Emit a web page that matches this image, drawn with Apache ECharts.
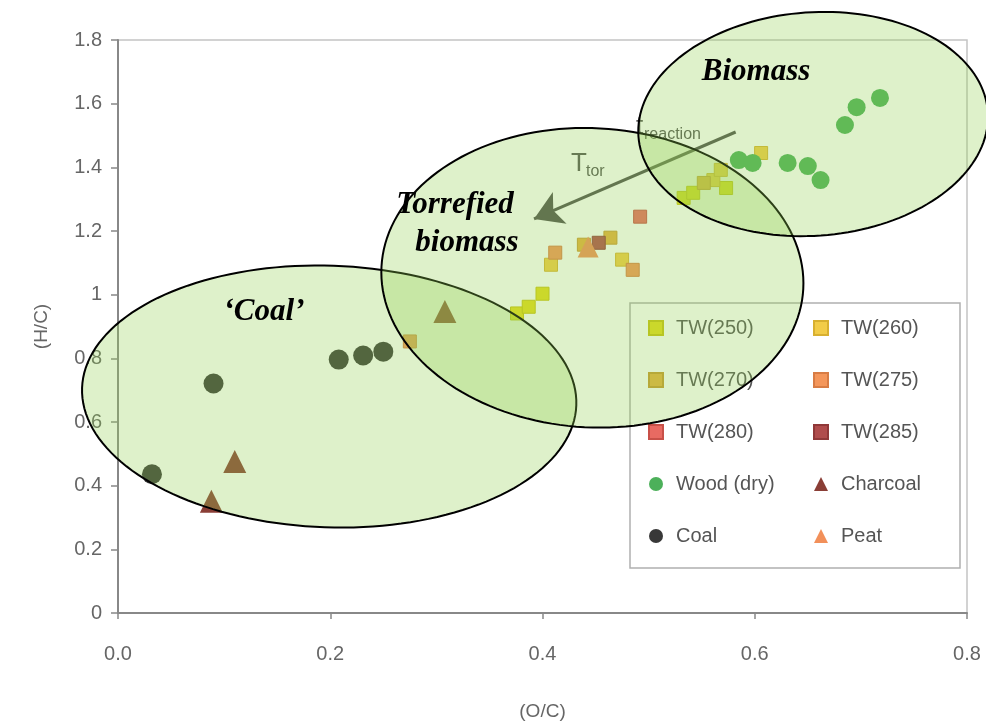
<!DOCTYPE html>
<html>
<head>
<meta charset="utf-8">
<script src="https://cdn.jsdelivr.net/npm/echarts@6/dist/echarts.min.js"></script>
<style>html,body{margin:0;padding:0;background:#fff}#c{width:986px;height:726px}</style>
</head>
<body>
<div id="c"></div>
<script>
// ---- data ----
const xTickLabels = ['0.0', '0.2', '0.4', '0.6', '0.8'];
const yTickLabels = ['0', '0.2', '0.4', '0.6', '0.8', '1', '1.2', '1.4', '1.6', '1.8'];
const legendCol1 = ['TW(250)', 'TW(270)', 'TW(280)', 'Wood (dry)', 'Coal'];
const legendCol2 = ['TW(260)', 'TW(275)', 'TW(285)', 'Charcoal', 'Peat'];

const tw250 = [[0.376, 0.941], [0.387, 0.962], [0.400, 1.003], [0.533, 1.304], [0.542, 1.320], [0.573, 1.335]];
const tw260 = [[0.408, 1.094], [0.475, 1.110], [0.561, 1.360], [0.568, 1.392], [0.606, 1.445]];
const tw270 = [[0.464, 1.179], [0.439, 1.157], [0.552, 1.351]];
const tw275 = [[0.275, 0.853], [0.412, 1.132], [0.485, 1.078]];
const tw280 = [[0.492, 1.245]];
const tw285 = [[0.453, 1.163]];
const wood = [[0.585, 1.423], [0.598, 1.414], [0.631, 1.414], [0.650, 1.404], [0.662, 1.360], [0.685, 1.533], [0.696, 1.589], [0.718, 1.618]];
const coal = [[0.032, 0.436], [0.090, 0.721], [0.208, 0.796], [0.231, 0.809], [0.250, 0.821]];
const charcoal = [[0.088, 0.351], [0.110, 0.476], [0.308, 0.947]];
const peat = [[0.443, 1.150]];

// annotation regions: [centre O/C, centre H/C, half-width O/C, half-height H/C, tilt deg]
const regions = [
  [0.199, 0.680, 0.233, 0.411, 2],
  [0.447, 1.053, 0.199, 0.470, 3],
  [0.655, 1.536, 0.165, 0.351, -4]
];
const arrowPath = [[0.582, 1.511], [0.392, 1.238]];

// ---- chart ----
const chart = echarts.init(document.getElementById('c'), null, {renderer: 'canvas'});
const FONT = '"Liberation Sans", Arial, sans-serif';
const SERIF = 'italic bold 31px "Liberation Serif", "Times New Roman", serif';

function sq(name, data, color, border) {
  return {name, type: 'scatter', data, symbol: 'rect', symbolSize: 13, z: 2,
    itemStyle: {color, borderColor: border, borderWidth: 1, opacity: 1}};
}
function mk(name, data, symbol, size, color) {
  return {name, type: 'scatter', data, symbol, symbolSize: size, z: 2,
    itemStyle: {color, opacity: 1}};
}
function txt(x, y, text, font, fill, align, vAlign, z) {
  return {type: 'text', z, silent: true, x, y,
    style: {text, font, fill, textAlign: align, textVerticalAlign: vAlign, align, verticalAlign: vAlign}};
}

const legendBase = {
  orient: 'vertical', itemWidth: 14, itemHeight: 14, itemGap: 32, padding: 0,
  selectedMode: false,
  textStyle: {fontSize: 20, color: '#555', fontFamily: FONT, lineHeight: 20, padding: [0, 0, 0, 8]}
};

const option = {
  animation: false,
  backgroundColor: '#fff',
  grid: {left: 118, right: 19, top: 40, bottom: 112, show: true, borderColor: '#c4c4c4', borderWidth: 1.5},
  xAxis: {
    type: 'value', min: 0, max: 0.8, interval: 0.2,
    name: '(O/C)', nameLocation: 'middle', nameGap: 89, nameMoveOverlap: false,
    nameTextStyle: {fontSize: 19, color: '#666', fontFamily: FONT},
    axisLine: {show: true, onZero: false, lineStyle: {color: '#888', width: 2}},
    axisTick: {show: true, length: 6, lineStyle: {color: '#888', width: 1.5}},
    axisLabel: {fontSize: 20, color: '#666', fontFamily: FONT, margin: 31,
      formatter: (v) => xTickLabels[Math.round(v / 0.2)] || ''},
    splitLine: {show: false}
  },
  yAxis: {
    type: 'value', min: 0, max: 1.8, interval: 0.2,
    name: '(H/C)', nameLocation: 'middle', nameGap: 67, nameRotate: 90, nameMoveOverlap: false,
    nameTextStyle: {fontSize: 19, color: '#666', fontFamily: FONT},
    axisLine: {show: true, onZero: false, lineStyle: {color: '#888', width: 2}},
    axisTick: {show: true, length: 7, lineStyle: {color: '#888', width: 1.5}},
    axisLabel: {fontSize: 20, color: '#666', fontFamily: FONT, margin: 16,
      formatter: (v) => yTickLabels[Math.round(v / 0.2)] || ''},
    splitLine: {show: false}
  },
  legend: [
    Object.assign({}, legendBase, {data: legendCol1, left: 648, top: 318}),
    Object.assign({}, legendBase, {data: legendCol2, left: 813, top: 318})
  ],
  series: [
    sq('TW(250)', tw250, '#e4dc1c', '#c8c010'),
    sq('TW(260)', tw260, '#f2cc48', '#d8b030'),
    sq('TW(270)', tw270, '#e6b040', '#c89830'),
    sq('TW(275)', tw275, '#f4965a', '#d87c44'),
    sq('TW(280)', tw280, '#e86a62', '#c85048'),
    sq('TW(285)', tw285, '#b04c4c', '#903838'),
    mk('Wood (dry)', wood, 'circle', 18, '#4cb05a'),
    mk('Coal', coal, 'circle', 20, '#383838'),
    mk('Charcoal', charcoal, 'triangle', 23, '#8a3e36'),
    mk('Peat', peat, 'triangle', 21, '#f2905a'),
    {
      type: 'custom', name: 'regions', data: regions, z: 5, silent: true, clip: false,
      renderItem: function (params, api) {
        const c = api.coord([api.value(0), api.value(1)]);
        const s = api.size([api.value(2), api.value(3)]);
        const th = api.value(4) * Math.PI / 180;
        const pts = [];
        for (let i = 0; i < 160; i++) {
          const t = i / 160 * 2 * Math.PI;
          const ex = s[0] * Math.cos(t), ey = s[1] * Math.sin(t);
          pts.push([c[0] + ex * Math.cos(th) - ey * Math.sin(th), c[1] + ex * Math.sin(th) + ey * Math.cos(th)]);
        }
        return {type: 'polygon', shape: {points: pts},
          style: {fill: 'rgba(146,208,80,0.3)', stroke: '#000', lineWidth: 2}};
      }
    },
    {
      type: 'scatter', name: 'arrow', data: [], z: 2, silent: true,
      markLine: {
        silent: true, symbol: ['none', 'arrow'], symbolSize: [26, 28], animation: false,
        label: {show: false},
        lineStyle: {color: '#505050', width: 3, type: 'solid'},
        data: [[{coord: arrowPath[0]}, {coord: arrowPath[1]}]]
      }
    }
  ],
  graphic: {
    elements: [
      {type: 'rect', z: 3, silent: true, shape: {x: 630, y: 303, width: 330, height: 265},
        style: {fill: 'none', stroke: '#b0b0b0', lineWidth: 1.5}},
      txt(571, 177, 'T', '26px ' + FONT, '#555', 'left', 'bottom', 3),
      txt(586, 180, 'tor', '16px ' + FONT, '#555', 'left', 'bottom', 3),
      txt(636, 140, 't', '26px ' + FONT, '#555', 'left', 'bottom', 3),
      txt(644, 143, 'reaction', '16px ' + FONT, '#555', 'left', 'bottom', 3),
      txt(756, 72, 'Biomass', SERIF, '#000', 'center', 'middle', 20),
      txt(455, 205, 'Torrefied', SERIF, '#000', 'center', 'middle', 20),
      txt(467, 243, 'biomass', SERIF, '#000', 'center', 'middle', 20),
      txt(264, 312, '\u2018Coal\u2019', SERIF, '#000', 'center', 'middle', 20)
    ]
  }
};
chart.setOption(option);
</script>
</body>
</html>
